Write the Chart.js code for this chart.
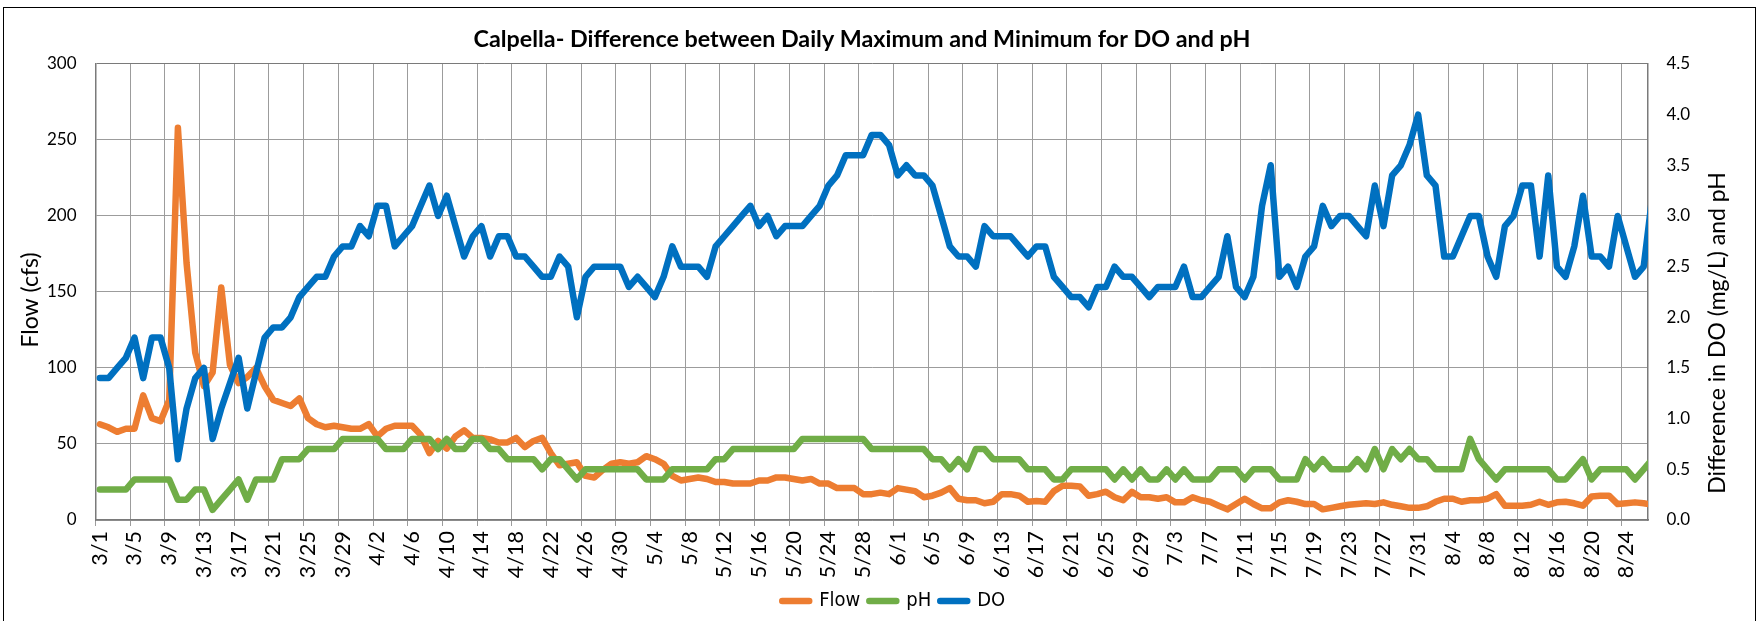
<!DOCTYPE html>
<html>
<head>
<meta charset="utf-8">
<script src="https://cdn.jsdelivr.net/npm/chart.js@4.4.0/dist/chart.umd.min.js"></script>
<style>
html,body{margin:0;padding:0;background:#fff;overflow:hidden;}
#wrap{position:relative;width:1764px;height:621px;overflow:hidden;}
#frame{position:absolute;left:3px;top:7px;width:1753px;height:700px;border:1px solid #000;box-sizing:border-box;pointer-events:none;}
canvas{position:absolute;left:0;top:0;}
</style>
</head>
<body>
<div id="wrap"><canvas id="c" width="1764" height="621"></canvas><div id="frame"></div></div>
<script>
const chartTitle = 'Calpella- Difference between Daily Maximum and Minimum for DO and pH';
const leftAxisTitle = 'Flow (cfs)';
const rightAxisTitle = 'Difference in DO (mg/L) and pH';
const seriesNames = ['Flow', 'pH', 'DO'];

const categories = [
 '3/1','3/2','3/3','3/4','3/5','3/6','3/7','3/8','3/9','3/10','3/11','3/12','3/13','3/14','3/15','3/16','3/17','3/18','3/19','3/20','3/21','3/22','3/23','3/24','3/25','3/26','3/27','3/28','3/29','3/30','3/31',
 '4/1','4/2','4/3','4/4','4/5','4/6','4/7','4/8','4/9','4/10','4/11','4/12','4/13','4/14','4/15','4/16','4/17','4/18','4/19','4/20','4/21','4/22','4/23','4/24','4/25','4/26','4/27','4/28','4/29','4/30',
 '5/1','5/2','5/3','5/4','5/5','5/6','5/7','5/8','5/9','5/10','5/11','5/12','5/13','5/14','5/15','5/16','5/17','5/18','5/19','5/20','5/21','5/22','5/23','5/24','5/25','5/26','5/27','5/28','5/29','5/30','5/31',
 '6/1','6/2','6/3','6/4','6/5','6/6','6/7','6/8','6/9','6/10','6/11','6/12','6/13','6/14','6/15','6/16','6/17','6/18','6/19','6/20','6/21','6/22','6/23','6/24','6/25','6/26','6/27','6/28','6/29','6/30',
 '7/1','7/2','7/3','7/4','7/5','7/6','7/7','7/8','7/9','7/10','7/11','7/12','7/13','7/14','7/15','7/16','7/17','7/18','7/19','7/20','7/21','7/22','7/23','7/24','7/25','7/26','7/27','7/28','7/29','7/30','7/31',
 '8/1','8/2','8/3','8/4','8/5','8/6','8/7','8/8','8/9','8/10','8/11','8/12','8/13','8/14','8/15','8/16','8/17','8/18','8/19','8/20','8/21','8/22','8/23','8/24','8/25','8/26','8/27'
];
// the axis ends at this category; the last day is cut by the plot edge
const lastShownIndex = 178;

const flow = [
 63,61,58,60,60,82,67,65,79,258,
 169,110,88,97,153,102,90,94,100,88,
 79,77,75,80,67,63,61,62,61,60,
 60,
 63,55,60,62,62,62,56,44,52,47,
 55,59,54,54,53,51,51,54,48,52,
 54,44,36,37,38,29,28,33,37,38,
 37,38,42,40,37,29,26,27,28,27,
 25,25,24,24,24,26,26,28,28,27,
 26,27,24,24,21,21,21,17,17,18,
 17,21,20,19,15,16,18,21,14,13,
 13,11,12,17,17,16,12,12.5,12,19,
 22.5,22.5,22,16,17,18.6,15,13,18.5,15,
 15,14,15,11.6,11.6,15,13,12,9.4,7,
 10.5,14,10.5,7.7,7.7,11.6,13,12,10.5,10.5,
 7,8,9,10,10.5,11,10.5,11.6,10,9,
 8,8,9,12,14,14,12,13,13,14,
 17,9.4,9.4,9.4,10,12,10,11.6,12,11,
 9.4,15.5,16,16,10.5,11,11.6,11,10
];

const ph = [
 0.3,0.3,0.3,0.3,0.4,0.4,0.4,0.4,0.4,0.2,
 0.2,0.3,0.3,0.1,0.2,0.3,0.4,0.2,0.4,0.4,
 0.4,0.6,0.6,0.6,0.7,0.7,0.7,0.7,0.8,0.8,
 0.8,
 0.8,0.8,0.7,0.7,0.7,0.8,0.8,0.8,0.7,0.8,
 0.7,0.7,0.8,0.8,0.7,0.7,0.6,0.6,0.6,0.6,
 0.5,0.6,0.6,0.5,0.4,0.5,0.5,0.5,0.5,0.5,
 0.5,0.5,0.4,0.4,0.4,0.5,0.5,0.5,0.5,0.5,
 0.6,0.6,0.7,0.7,0.7,0.7,0.7,0.7,0.7,0.7,
 0.8,0.8,0.8,0.8,0.8,0.8,0.8,0.8,0.7,0.7,
 0.7,0.7,0.7,0.7,0.7,0.6,0.6,0.5,0.6,0.5,
 0.7,0.7,0.6,0.6,0.6,0.6,0.5,0.5,0.5,0.4,
 0.4,0.5,0.5,0.5,0.5,0.5,0.4,0.5,0.4,0.5,
 0.4,0.4,0.5,0.4,0.5,0.4,0.4,0.4,0.5,0.5,
 0.5,0.4,0.5,0.5,0.5,0.4,0.4,0.4,0.6,0.5,
 0.6,0.5,0.5,0.5,0.6,0.5,0.7,0.5,0.7,0.6,
 0.7,0.6,0.6,0.5,0.5,0.5,0.5,0.8,0.6,0.5,
 0.4,0.5,0.5,0.5,0.5,0.5,0.5,0.4,0.4,0.5,
 0.6,0.4,0.5,0.5,0.5,0.5,0.4,0.5,0.6
];

const dissolvedOxygen = [
 1.4,1.4,1.5,1.6,1.8,1.4,1.8,1.8,1.5,0.6,
 1.1,1.4,1.5,0.8,1.1,1.35,1.6,1.1,1.45,1.8,
 1.9,1.9,2.0,2.2,2.3,2.4,2.4,2.6,2.7,2.7,
 2.9,
 2.8,3.1,3.1,2.7,2.8,2.9,3.1,3.3,3.0,3.2,
 2.9,2.6,2.8,2.9,2.6,2.8,2.8,2.6,2.6,2.5,
 2.4,2.4,2.6,2.5,2.0,2.4,2.5,2.5,2.5,2.5,
 2.3,2.4,2.3,2.2,2.4,2.7,2.5,2.5,2.5,2.4,
 2.7,2.8,2.9,3.0,3.1,2.9,3.0,2.8,2.9,2.9,
 2.9,3.0,3.1,3.3,3.4,3.6,3.6,3.6,3.8,3.8,
 3.7,3.4,3.5,3.4,3.4,3.3,3.0,2.7,2.6,2.6,
 2.5,2.9,2.8,2.8,2.8,2.7,2.6,2.7,2.7,2.4,
 2.3,2.2,2.2,2.1,2.3,2.3,2.5,2.4,2.4,2.3,
 2.2,2.3,2.3,2.3,2.5,2.2,2.2,2.3,2.4,2.8,
 2.3,2.2,2.4,3.1,3.5,2.4,2.5,2.3,2.6,2.7,
 3.1,2.9,3.0,3.0,2.9,2.8,3.3,2.9,3.4,3.5,
 3.7,4.0,3.4,3.3,2.6,2.6,2.8,3.0,3.0,2.6,
 2.4,2.9,3.0,3.3,3.3,2.6,3.4,2.5,2.4,2.7,
 3.2,2.6,2.6,2.5,3.0,2.7,2.4,2.5,3.2
];

const flowTicks = [0, 50, 100, 150, 200, 250, 300];
const rightTicks = [0, 0.5, 1.0, 1.5, 2.0, 2.5, 3.0, 3.5, 4.0, 4.5];

const COLORS = { flow: '#ED7D31', ph: '#70AD47', doo: '#0070C0' };
const GRID = '#9c9c9c';
const AXIS = '#7a7a7a';
const LINE_W = 6.5;
const TICK_FONT = { family: 'Lato', size: 17 };
const XTICK_FONT = { family: 'Lato', size: 21.5 };
const LEGEND_FAMILY = "'Liberation Sans Narrow', 'DejaVu Sans Condensed', 'Roboto Condensed', Lato, sans-serif";
const LEGEND_SHIFT = 22;

const axisTitlePlugin = {
  id: 'axisTitlePlugin',
  afterDraw(chart) {
    const ctx = chart.ctx;
    const a = chart.chartArea;
    ctx.save();
    ctx.fillStyle = '#000';
    ctx.textAlign = 'center';
    ctx.textBaseline = 'middle';
    ctx.font = '23px Lato';
    ctx.save();
    ctx.translate(a.left - 65, (a.top + a.bottom) / 2 + 8);
    ctx.rotate(-Math.PI / 2);
    ctx.fillText(leftAxisTitle, 0, 0);
    ctx.restore();
    ctx.save();
    ctx.translate(a.right + 70, (a.top + a.bottom) / 2 + 41);
    ctx.rotate(-Math.PI / 2);
    ctx.fillText(rightAxisTitle, 0, 0);
    ctx.restore();
    ctx.restore();
  }
};

// nudge the bottom legend to the right, as in the source chart
const legendShiftPlugin = {
  id: 'legendShiftPlugin',
  afterLayout(chart) {
    const lg = chart.legend;
    if (lg) { lg.left += LEGEND_SHIFT; lg.right += LEGEND_SHIFT; }
  }
};

new Chart(document.getElementById('c'), {
  type: 'line',
  data: {
    labels: categories,
    datasets: [
      { label: seriesNames[0], data: flow, yAxisID: 'y', borderColor: COLORS.flow, backgroundColor: COLORS.flow, order: 3, clip: 0 },
      { label: seriesNames[1], data: ph, yAxisID: 'y1', borderColor: COLORS.ph, backgroundColor: COLORS.ph, order: 2, clip: 0 },
      { label: seriesNames[2], data: dissolvedOxygen, yAxisID: 'y1', borderColor: COLORS.doo, backgroundColor: COLORS.doo, order: 1, clip: 0 }
    ]
  },
  options: {
    responsive: false,
    devicePixelRatio: 1,
    animation: false,
    layout: { padding: { left: 0, right: 40, top: 10, bottom: 0 } },
    elements: {
      line: { borderWidth: LINE_W, tension: 0, borderCapStyle: 'round', borderJoinStyle: 'round', fill: false },
      point: { radius: 0, hoverRadius: 0 }
    },
    plugins: {
      title: {
        display: true, text: chartTitle, color: '#000',
        font: { family: 'Lato', size: 23.3, weight: 'bold' },
        padding: { top: 15, bottom: 11 }
      },
      legend: {
        position: 'bottom', fullSize: false,
        labels: {
          usePointStyle: true, pointStyle: 'line', pointStyleWidth: 27,
          color: '#000', padding: 9,
          font: { family: LEGEND_FAMILY, size: 20 },
          generateLabels: chart => {
            const items = Chart.defaults.plugins.legend.labels.generateLabels(chart);
            items.forEach(it => { it.lineWidth = LINE_W; it.lineCap = 'round'; it.pointStyle = 'line'; });
            return items.sort((a, b) => a.datasetIndex - b.datasetIndex);
          }
        }
      },
      tooltip: { enabled: false }
    },
    scales: {
      x: {
        type: 'category', offset: true,
        afterDataLimits: s => { s.max = lastShownIndex; },
        grid: {
          offset: true, lineWidth: 1, tickLength: 6,
          color: ctx => (ctx.index % 4 === 0 && ctx.index > 0) ? GRID : 'rgba(0,0,0,0)',
          tickColor: ctx => (ctx.index % 4 === 0) ? GRID : 'rgba(0,0,0,0)'
        },
        border: { color: AXIS, width: 1.5 },
        ticks: {
          autoSkip: false, maxRotation: 90, minRotation: 90, padding: 5,
          color: '#000', font: XTICK_FONT,
          callback: function (v, i) { return i % 4 === 0 ? this.getLabelForValue(v) : ''; }
        },
        afterFit: s => { s.height = 62; }
      },
      y: {
        position: 'left', min: 0, max: 300,
        afterBuildTicks: s => { s.ticks = flowTicks.map(v => ({ value: v })); },
        grid: { drawTicks: false, lineWidth: 1, color: ctx => (ctx.tick && ctx.tick.value === 300) ? AXIS : GRID },
        border: { color: AXIS, width: 1.5 },
        ticks: { padding: 19, color: '#000', font: TICK_FONT },
        afterFit: s => { s.width = 95.5; }
      },
      y1: {
        position: 'right', min: 0, max: 4.5,
        afterBuildTicks: s => { s.ticks = rightTicks.map(v => ({ value: v })); },
        grid: { drawOnChartArea: false, drawTicks: false },
        border: { color: AXIS, width: 1.5 },
        ticks: { padding: 18.5, color: '#000', font: TICK_FONT, callback: v => Number(v).toFixed(1) },
        afterFit: s => { s.width = 76; }
      }
    }
  },
  plugins: [axisTitlePlugin, legendShiftPlugin]
});
</script>
</body>
</html>
